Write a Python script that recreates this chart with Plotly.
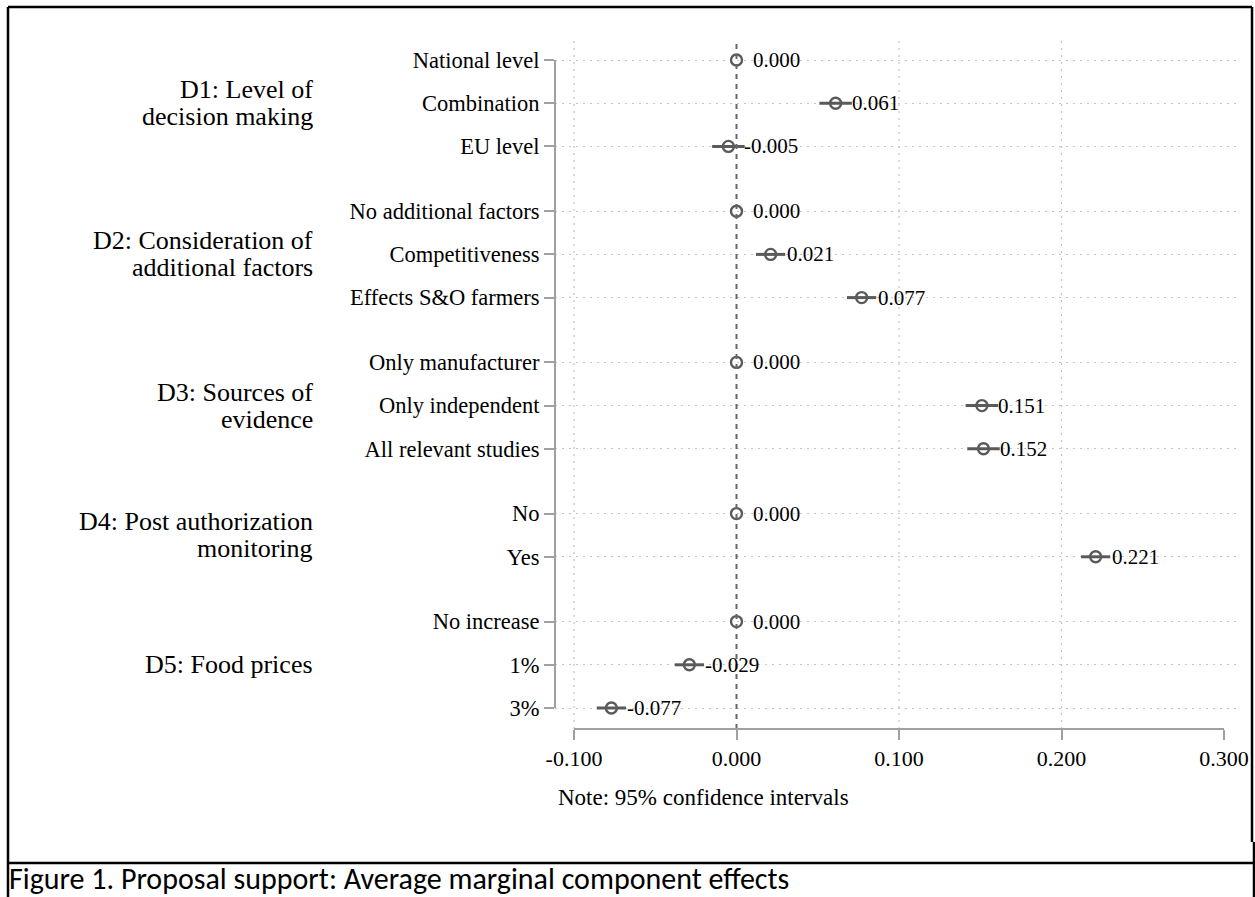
import plotly.graph_objects as go

# Attribute levels (rows) grouped by design dimension
group_labels = [
    ["D1: Level of", "decision making"],
    ["D2: Consideration of", "additional factors"],
    ["D3: Sources of", "evidence"],
    ["D4: Post authorization", "monitoring"],
    ["D5: Food prices"],
]
group_levels = [
    ["National level", "Combination", "EU level"],
    ["No additional factors", "Competitiveness", "Effects S&O farmers"],
    ["Only manufacturer", "Only independent", "All relevant studies"],
    ["No", "Yes"],
    ["No increase", "1%", "3%"],
]

# Average marginal component effects with 95% confidence bounds
estimates = [0.000, 0.061, -0.005,
             0.000, 0.021, 0.077,
             0.000, 0.151, 0.152,
             0.000, 0.221,
             0.000, -0.029, -0.077]
ci_low = [0.000, 0.051, -0.015,
          0.000, 0.012, 0.068,
          0.000, 0.141, 0.142,
          0.000, 0.212,
          0.000, -0.038, -0.086]
ci_high = [0.000, 0.071, 0.005,
           0.000, 0.030, 0.086,
           0.000, 0.161, 0.162,
           0.000, 0.230,
           0.000, -0.020, -0.068]

x_ticks = [-0.1, 0.0, 0.1, 0.2, 0.3]
x_tick_labels = ["-0.100", "0.000", "0.100", "0.200", "0.300"]
x_grid = [-0.1, 0.1, 0.2]

# Row positions: one unit per level, half a unit extra between dimensions
levels, positions, group_centers = [], [], []
u = 0.0
for lv in group_levels:
    start = u
    for name in lv:
        levels.append(name)
        positions.append(u)
        u += 1.0
    group_centers.append((start + u - 1.0) / 2.0)
    u += 0.5

W, H = 1255, 897
L, R, T, B = 555, 15, 40, 168
PW, PH = W - L - R, H - T - B
ROW_PX = 43.2
X_PX_PER_UNIT = 1625.0

x_lo = -0.1 - (574 - L) / X_PX_PER_UNIT
x_range = [x_lo, x_lo + PW / X_PX_PER_UNIT]
y_top = (T - 60) / ROW_PX
y_bottom = y_top + PH / ROW_PX

SERIF = "Liberation Serif, Times New Roman, serif"
MARK = "#5a5a5a"
AXIS = "#a0a0a0"
GRID = "#c4c4c4"


def px_x(px):
    return (px - L) / PW


def px_y(py):
    return (H - B - py) / PH


fig = go.Figure()

fig.add_trace(go.Scatter(
    x=estimates,
    y=positions,
    mode="markers",
    marker=dict(symbol="circle-open", size=11, color=MARK, line=dict(width=2.4, color=MARK)),
    error_x=dict(
        type="data",
        symmetric=False,
        array=[h - e for h, e in zip(ci_high, estimates)],
        arrayminus=[e - lo for e, lo in zip(estimates, ci_low)],
        color=MARK,
        thickness=3,
        width=0,
    ),
    showlegend=False,
    hoverinfo="skip",
))

shapes = []
# vertical dotted grid
for gx in x_grid:
    shapes.append(dict(type="line", xref="x", yref="paper", x0=gx, x1=gx, y0=0, y1=1,
                       line=dict(color=GRID, width=1.2, dash="2px,5px"), layer="below"))
# reference line at zero
shapes.append(dict(type="line", xref="x", yref="paper", x0=0, x1=0, y0=0, y1=1,
                   line=dict(color="#666666", width=2, dash="5px,5px")))
# y axis line spanning first to last level
shapes.append(dict(type="line", xref="paper", yref="y", x0=0, x1=0,
                   y0=positions[0], y1=positions[-1], line=dict(color=AXIS, width=2)))
# x axis line spanning first to last tick
shapes.append(dict(type="line", xref="x", yref="paper", x0=x_ticks[0], x1=x_ticks[-1],
                   y0=0, y1=0, line=dict(color=AXIS, width=2)))

# outer frame and caption box
BLK = dict(color="black", width=2.5)
for (x0, y0, x1, y1) in [
    (8, 7, 1252, 7),
    (8, 7, 8, 897),
    (1252, 7, 1252, 842),
    (1254, 842, 1254, 897),
    (8, 863, 1254, 863),
]:
    shapes.append(dict(type="line", xref="paper", yref="paper",
                       x0=px_x(x0), x1=px_x(x1), y0=px_y(y0), y1=px_y(y1), line=BLK))

annotations = []
# value labels next to each estimate
for e, p in zip(estimates, positions):
    annotations.append(dict(x=e, y=p, xref="x", yref="y", text=f"{e:.3f}",
                            showarrow=False, xanchor="left", yanchor="middle", xshift=14,
                            font=dict(family=SERIF, size=21, color="black")))
# dimension labels
for lines, c in zip(group_labels, group_centers):
    n = len(lines)
    for i, line in enumerate(lines):
        off = (i - (n - 1) / 2.0) * 27
        annotations.append(dict(x=px_x(315), y=c, xref="paper", yref="y", text=line,
                                showarrow=False, xanchor="right", yanchor="middle",
                                yshift=-off,
                                font=dict(family=SERIF, size=26, color="black")))
annotations.append(dict(x=px_x(556), y=px_y(797), xref="paper", yref="paper",
                        text="Note: 95% confidence intervals", showarrow=False,
                        xanchor="left", yanchor="middle",
                        font=dict(family=SERIF, size=23, color="black")))
annotations.append(dict(x=px_x(7), y=px_y(878), xref="paper", yref="paper",
                        text="Figure 1. Proposal support: Average marginal component effects",
                        showarrow=False, xanchor="left", yanchor="middle",
                        font=dict(family="Carlito, Lato, sans-serif", size=30, color="black")))

fig.update_layout(
    template="none",
    width=W, height=H,
    margin=dict(l=L, r=R, t=T, b=B, pad=0),
    paper_bgcolor="white",
    plot_bgcolor="white",
    xaxis=dict(range=x_range, tickvals=x_ticks, ticktext=x_tick_labels,
               automargin=False, showgrid=False, zeroline=False, showline=False,
               ticks="outside", ticklen=10, tickwidth=2, tickcolor=AXIS,
               tickfont=dict(family=SERIF, size=22, color="black")),
    yaxis=dict(range=[y_bottom, y_top], tickvals=positions, ticktext=levels,
               automargin=False,
               showgrid=True, gridcolor=GRID, gridwidth=1.2, griddash="2px,5px",
               zeroline=False, showline=False,
               ticks="outside", ticklen=10, tickwidth=2, tickcolor=AXIS,
               tickfont=dict(family=SERIF, size=22.5, color="black")),
    shapes=shapes,
    annotations=annotations,
)

fig.write_html("out.html")
